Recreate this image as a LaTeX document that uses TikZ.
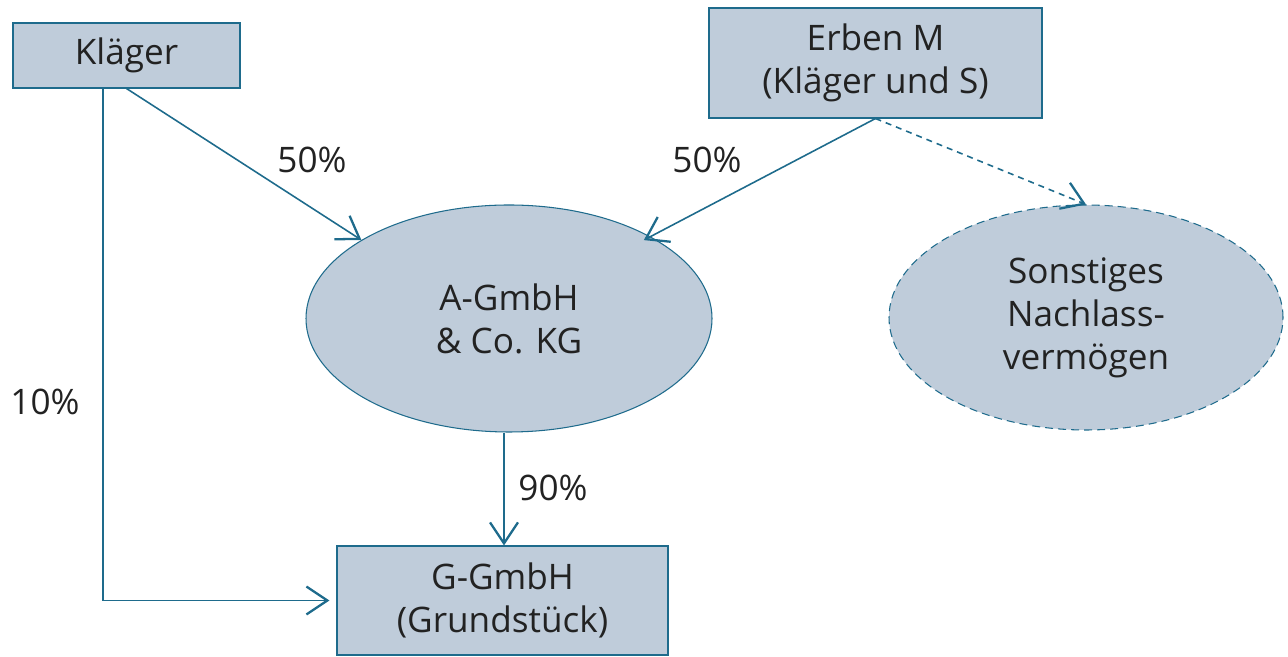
\documentclass[tikz,border=0pt]{standalone}
\usepackage{fontspec}
\setmainfont{Open Sans}
\usetikzlibrary{arrows.meta,shapes.geometric}
\definecolor{boxfill}{HTML}{BFCCDA}
\definecolor{linecol}{HTML}{1E6B8C}
\definecolor{txtcol}{HTML}{222222}

\begin{document}
\begin{tikzpicture}[
    font=\fontsize{20}{24.5}\selectfont, text=txtcol,
    >={Straight Barb[length=0.42cm, width=0.56cm, line width=1.3pt]},
    box/.style={draw=linecol, fill=boxfill, line width=0.6pt, align=center, inner sep=0pt},
    oval/.style={ellipse, draw=linecol, fill=boxfill, line width=0.6pt, align=center, inner sep=0pt},
    conn/.style={draw=linecol, line width=0.9pt},
    lbl/.style={inner sep=0pt}]

    \useasboundingbox (0, 0) rectangle (25.76, 13.14);

    \node[box, minimum width=4.54cm, minimum height=1.30cm] (k) at (2.53, 12.03) {Kläger};
    \node[box, minimum width=6.66cm, minimum height=2.20cm] (e) at (17.51, 11.88) {Erben M\\(Kläger und S)};
    \node[oval, minimum width=8.12cm, minimum height=4.54cm] (a) at (10.18, 6.77) {A-GmbH\\\& Co. KG};
    \node[oval, dashed, dash pattern=on 0.16cm off 0.1cm, minimum width=7.88cm, minimum height=4.50cm] (s) at (21.72, 6.79) {Sonstiges\\Nachlass-\\vermögen};
    \node[box, minimum width=6.62cm, minimum height=2.18cm] (g) at (10.05, 1.13) {G-GmbH\\(Grundstück)};

    \node[lbl] (l1) at (6.24, 9.94) {50\%};
    \node[lbl] (l2) at (14.14, 9.94) {50\%};
    \node[lbl] (l3) at (0.90, 5.10) {10\%};
    \node[lbl] (l4) at (11.06, 3.38) {90\%};

    \draw [conn, ->] (k.south) to (a.152);
    \draw [conn, ->] (e.south) to ([shift={(-0.08,-0.1)}]a.31);
    \draw [conn, ->, dash pattern=on 0.12cm off 0.1cm] (e.south) to (s.north);
    \draw [conn, ->] ([xshift=-0.1cm]a.south) to ([xshift=-0.1cm]a.south |- g.north);
    \draw [conn, ->, shorten >=0.14cm] ([xshift=-0.47cm]k.south) |- (g.west);

\end{tikzpicture}
\end{document}
